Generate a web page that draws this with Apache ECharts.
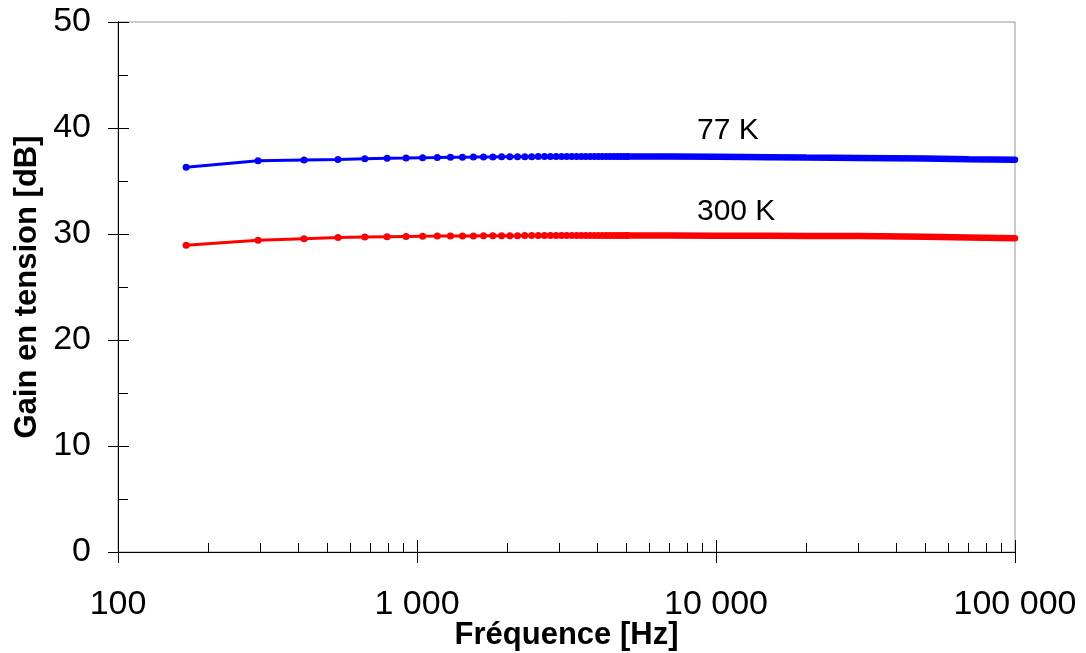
<!DOCTYPE html>
<html><head><meta charset="utf-8">
<script src="https://cdn.jsdelivr.net/npm/echarts@6/dist/echarts.min.js"></script>
<style>html,body{margin:0;padding:0;background:#fff}#c{width:1086px;height:653px}</style>
</head><body><div id="c"></div>
<script>
// Sweep points (distinct markers region)
const freqSweep = [169, 294, 419, 544, 669, 794, 919, 1044, 1169, 1294,
  1419, 1544, 1669, 1794, 1919, 2044, 2169, 2294, 2419, 2544,
  2669, 2794, 2919, 3044, 3169, 3294, 3419, 3544, 3669, 3794,
  3919, 4044, 4169, 4294, 4419, 4544, 4669, 4794, 4919, 5044];
const gain77 = [36.3, 36.9, 36.98, 37.04, 37.1, 37.14, 37.17, 37.2, 37.22, 37.24,
  37.25, 37.26, 37.27, 37.27, 37.28, 37.28, 37.29, 37.29, 37.29, 37.3,
  37.3, 37.3, 37.3, 37.3, 37.3, 37.3, 37.3, 37.3, 37.3, 37.3,
  37.3, 37.3, 37.3, 37.3, 37.3, 37.3, 37.3, 37.3, 37.3, 37.3];
const gain300 = [28.93, 29.4, 29.56, 29.66, 29.72, 29.75, 29.77, 29.79, 29.8, 29.81,
  29.82, 29.82, 29.83, 29.83, 29.84, 29.84, 29.84, 29.85, 29.85, 29.85,
  29.85, 29.85, 29.85, 29.85, 29.85, 29.85, 29.85, 29.85, 29.85, 29.85,
  29.85, 29.85, 29.85, 29.85, 29.85, 29.85, 29.85, 29.85, 29.85, 29.85];
// Dense region (markers merge into a solid band)
const freqDense = [5044, 7000, 10000, 15000, 20000, 30000, 50000, 70000, 100000];
const gain77Dense = [37.3, 37.3, 37.28, 37.25, 37.22, 37.18, 37.12, 37.05, 37.0];
const gain300Dense = [29.85, 29.85, 29.84, 29.83, 29.82, 29.8, 29.75, 29.68, 29.6];
const xMinorTicks = [200, 300, 400, 500, 600, 700, 800, 900,
  2000, 3000, 4000, 5000, 6000, 7000, 8000, 9000,
  20000, 30000, 40000, 50000, 60000, 70000, 80000, 90000];
const seriesLabels = ['77 K', '300 K'];
const labelPos = [[8635, 39.7], [8635, 32.1]];

const FONT = "'Liberation Sans', Arial, sans-serif";
const zip = (a, b) => a.map((v, i) => [v, b[i]]);
const fmt = v => String(Math.round(v)).replace(/\B(?=(\d{3})+(?!\d))/g, ' ');

const chart = echarts.init(document.getElementById('c'));
const xBase = {
  type: 'log', logBase: 10, min: 100, max: 100000, gridIndex: 0, position: 'bottom',
  splitLine: { show: false },
  axisLine: { show: true, lineStyle: { color: '#000', width: 1 } }
};
const yBase = {
  type: 'value', min: 0, max: 50, interval: 10, position: 'left',
  splitLine: { show: false },
  axisLine: { show: true, lineStyle: { color: '#000', width: 1 } }
};
chart.setOption({
  animation: false,
  backgroundColor: '#fff',
  grid: { left: 118, top: 22, width: 897, height: 530, show: true, borderColor: '#999', borderWidth: 1,
    backgroundColor: 'transparent', containLabel: false, outerBoundsMode: 'none' },
  xAxis: [
    Object.assign({}, xBase, {
      axisTick: { show: true, inside: false, length: 11, lineStyle: { color: '#000' } },
      axisLabel: { show: true, fontSize: 34, fontFamily: FONT, color: '#000', margin: 36, formatter: fmt },
      name: 'Fréquence [Hz]', nameLocation: 'middle', nameGap: 68, nameMoveOverlap: false,
      nameTextStyle: { fontSize: 31, fontWeight: 'bold', fontFamily: FONT, color: '#000' }
    }),
    Object.assign({}, xBase, {
      axisTick: { show: true, inside: true, length: 12, lineStyle: { color: '#000' } },
      axisLabel: { show: false }
    })
  ],
  yAxis: [
    Object.assign({}, yBase, {
      axisTick: { show: true, inside: false, length: 10, lineStyle: { color: '#000' } },
      axisLabel: { show: true, fontSize: 34, fontFamily: FONT, color: '#000', margin: 27 },
      name: 'Gain en tension [dB]', nameLocation: 'middle', nameGap: 75, nameMoveOverlap: false,
      nameTextStyle: { fontSize: 31, fontWeight: 'bold', fontFamily: FONT, color: '#000' }
    }),
    Object.assign({}, yBase, {
      axisTick: { show: true, inside: true, length: 11, lineStyle: { color: '#000' } },
      minorTick: { show: true, splitNumber: 2, length: 10, lineStyle: { color: '#000' } },
      axisLabel: { show: false }
    })
  ],
  series: [
    {
      name: seriesLabels[0], type: 'line', data: zip(freqSweep, gain77),
      symbol: 'circle', symbolSize: 7, showSymbol: true, showAllSymbol: true,
      lineStyle: { color: '#0000ff', width: 3 }, itemStyle: { color: '#0000ff' },
      markPoint: {
        symbol: 'circle', symbolSize: 0,
        label: { show: true, position: 'right', distance: 0, color: '#000', fontSize: 30, fontFamily: FONT, formatter: seriesLabels[0] },
        data: [{ coord: labelPos[0] }]
      }
    },
    {
      type: 'line', data: zip(freqDense, gain77Dense), symbol: 'none',
      lineStyle: { color: '#0000ff', width: 6.5, cap: 'round' }
    },
    {
      name: seriesLabels[1], type: 'line', data: zip(freqSweep, gain300),
      symbol: 'circle', symbolSize: 7, showSymbol: true, showAllSymbol: true,
      lineStyle: { color: '#ff0000', width: 3 }, itemStyle: { color: '#ff0000' },
      markPoint: {
        symbol: 'circle', symbolSize: 0,
        label: { show: true, position: 'right', distance: 0, color: '#000', fontSize: 30, fontFamily: FONT, formatter: seriesLabels[1] },
        data: [{ coord: labelPos[1] }]
      },
      markLine: {
        silent: true, symbol: 'none', animation: false,
        lineStyle: { color: '#000', width: 1, type: 'solid' },
        label: { show: false },
        data: xMinorTicks.map(f => [{ coord: [f, 0] }, { coord: [f, 0.85] }])
      }
    },
    {
      type: 'line', data: zip(freqDense, gain300Dense), symbol: 'none',
      lineStyle: { color: '#ff0000', width: 6.5, cap: 'round' }
    }
  ]
});
</script>
</body></html>
